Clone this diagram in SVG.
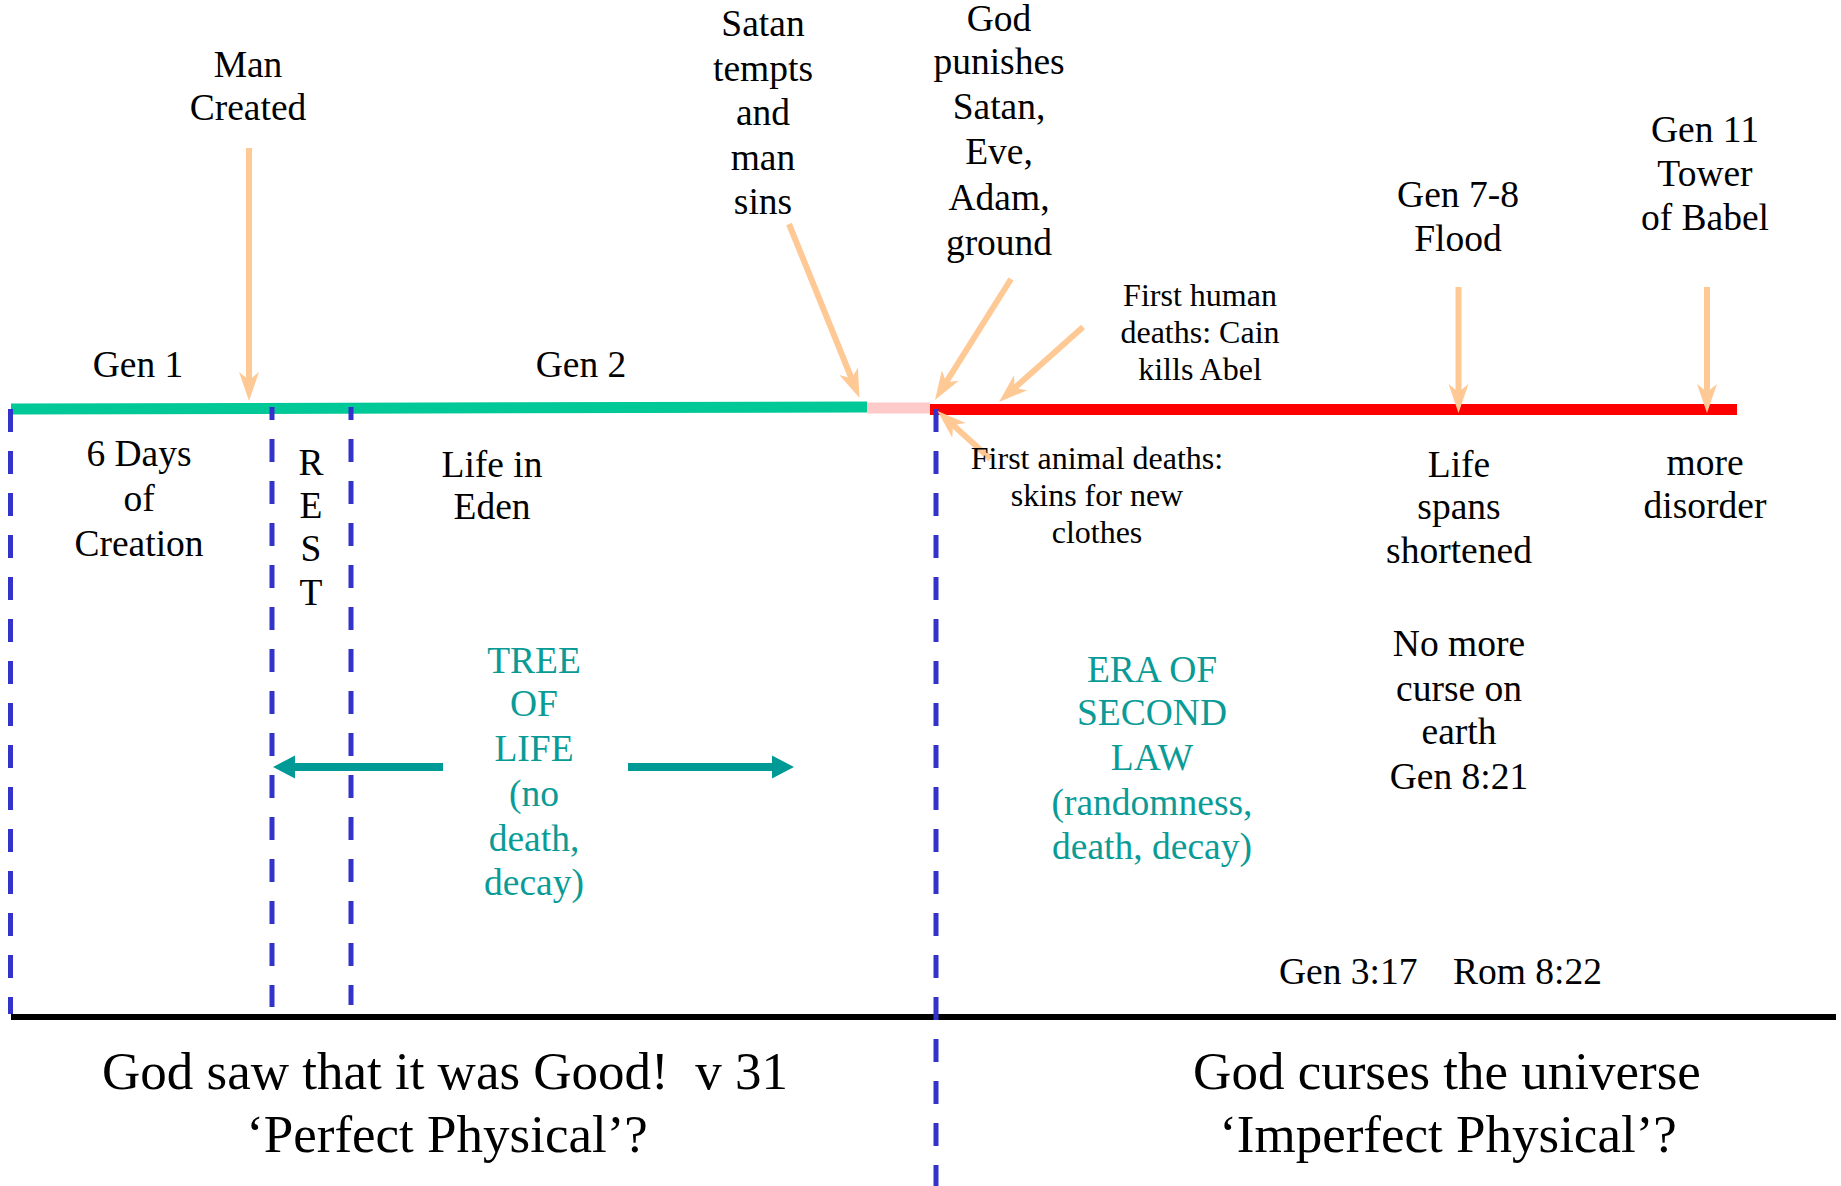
<svg xmlns="http://www.w3.org/2000/svg" width="1841" height="1186" viewBox="0 0 1841 1186">
<style>
text{font-family:"Liberation Serif","Times New Roman",serif;fill:#000}
.m{font-size:37.5px;text-anchor:middle}
.s{font-size:32px;text-anchor:middle}
.b{font-size:53px;text-anchor:middle}
.t{fill:#0a9b97}
.peach{stroke:#ffc995;stroke-width:6;fill:none;marker-end:url(#ph)}
.dash{stroke:#3333cc;stroke-width:5;stroke-dasharray:23 19;fill:none}
</style>
<defs>
<marker id="ph" markerUnits="userSpaceOnUse" orient="auto" markerWidth="40" markerHeight="30" refX="0" refY="0" overflow="visible">
<path d="M20,0 L-9,-10 L-1,0 L-9,10 Z" fill="#ffc995"/>
</marker>
<marker id="th" markerUnits="userSpaceOnUse" orient="auto" markerWidth="30" markerHeight="30" refX="0" refY="0" overflow="visible">
<path d="M0,-11.5 L22,0 L0,11.5 Z" fill="#009a96"/>
</marker>
</defs>

<g id="timeline">
<line x1="11" y1="409" x2="867" y2="407" stroke="#00c896" stroke-width="11"/>
<line x1="867" y1="408" x2="930" y2="408" stroke="#ffcaca" stroke-width="11"/>
<line x1="930" y1="409.5" x2="1737" y2="409.5" stroke="#ff0000" stroke-width="11"/>
<line x1="11" y1="1017" x2="1836" y2="1017" stroke="#000" stroke-width="6"/>
</g>

<g id="dividers">
<line class="dash" x1="10.5" y1="409" x2="10.5" y2="1014"/>
<line class="dash" x1="272" y1="407" x2="272" y2="1007" stroke-dashoffset="10"/>
<line class="dash" x1="351" y1="407" x2="351" y2="1005" stroke-dashoffset="10"/>
<line class="dash" x1="936" y1="407" x2="936" y2="1186" stroke-dashoffset="-2"/>
</g>

<g id="connectors">
<line class="peach" x1="249" y1="148" x2="249" y2="381"/>
<line class="peach" x1="789" y1="224" x2="852" y2="379.5"/>
<line class="peach" x1="1011" y1="279" x2="945.6" y2="383.1"/>
<line class="peach" x1="1083" y1="327" x2="1013.9" y2="388.7"/>
<line class="peach" x1="1458.5" y1="287" x2="1458.5" y2="393"/>
<line class="peach" x1="1707" y1="287" x2="1707" y2="393"/>
<line class="peach" x1="990.5" y1="459" x2="952.3" y2="424.4"/>
<line x1="443" y1="767" x2="295" y2="767" stroke="#009a96" stroke-width="8" marker-end="url(#th)"/>
<line x1="628" y1="767" x2="772" y2="767" stroke="#009a96" stroke-width="8" marker-end="url(#th)"/>
</g>

<g id="man-created"><text class="m" x="248" y="76.5">Man</text><text class="m" x="248" y="119.5">Created</text></g>
<g id="satan-tempts"><text class="m" x="763" y="36">Satan</text><text class="m" x="763" y="80.5">tempts</text><text class="m" x="763" y="125">and</text><text class="m" x="763" y="169.5">man</text><text class="m" x="763" y="214">sins</text></g>
<g id="god-punishes"><text class="m" x="999" y="31">God</text><text class="m" x="999" y="73.5">punishes</text><text class="m" x="999" y="118.5">Satan,</text><text class="m" x="999" y="164">Eve,</text><text class="m" x="999" y="209.5">Adam,</text><text class="m" x="999" y="254.5">ground</text></g>
<g id="first-human"><text class="s" x="1200" y="306">First human</text><text class="s" x="1200" y="343">deaths: Cain</text><text class="s" x="1200" y="380">kills Abel</text></g>
<g id="flood"><text class="m" x="1458" y="207">Gen 7-8</text><text class="m" x="1458" y="251">Flood</text></g>
<g id="babel"><text class="m" x="1705" y="142">Gen 11</text><text class="m" x="1705" y="186">Tower</text><text class="m" x="1705" y="230">of Babel</text></g>
<g id="gen1"><text class="m" x="138" y="377">Gen 1</text></g>
<g id="gen2"><text class="m" x="581" y="377">Gen 2</text></g>
<g id="six-days"><text class="m" x="139" y="466">6 Days</text><text class="m" x="139" y="511">of</text><text class="m" x="139" y="556">Creation</text></g>
<g id="rest"><text class="m" x="311" y="474.5">R</text><text class="m" x="311" y="518">E</text><text class="m" x="311" y="561">S</text><text class="m" x="311" y="604.5">T</text></g>
<g id="eden"><text class="m" x="492" y="477">Life in</text><text class="m" x="492" y="519">Eden</text></g>
<g id="first-animal"><text class="s" x="1097" y="469">First animal deaths:</text><text class="s" x="1097" y="506">skins for new</text><text class="s" x="1097" y="543">clothes</text></g>
<g id="life-spans"><text class="m" x="1459" y="477">Life</text><text class="m" x="1459" y="519">spans</text><text class="m" x="1459" y="563">shortened</text></g>
<g id="disorder"><text class="m" x="1705" y="475">more</text><text class="m" x="1705" y="518">disorder</text></g>
<g id="tree-of-life"><text class="m t" x="534" y="673">TREE</text><text class="m t" x="534" y="716">OF</text><text class="m t" x="534" y="761">LIFE</text><text class="m t" x="534" y="806">(no</text><text class="m t" x="534" y="851">death,</text><text class="m t" x="534" y="895">decay)</text></g>
<g id="second-law"><text class="m t" x="1152" y="681.5">ERA OF</text><text class="m t" x="1152" y="725">SECOND</text><text class="m t" x="1152" y="770">LAW</text><text class="m t" x="1152" y="815">(randomness,</text><text class="m t" x="1152" y="859">death, decay)</text></g>
<g id="no-more-curse"><text class="m" x="1459" y="656">No more</text><text class="m" x="1459" y="701">curse on</text><text class="m" x="1459" y="744">earth</text><text class="m" x="1459" y="789">Gen 8:21</text></g>
<g id="refs"><text style="font-size:37.5px" x="1279" y="984">Gen 3:17</text><text style="font-size:37.5px" x="1453" y="984">Rom 8:22</text></g>
<g id="good"><text class="b" x="445" y="1089" xml:space="preserve">God saw that it was Good!  v 31</text><text class="b" x="447" y="1152">‘Perfect Physical’?</text></g>
<g id="curses"><text class="b" x="1447" y="1089">God curses the universe</text><text class="b" x="1448" y="1152">‘Imperfect Physical’?</text></g>
</svg>
